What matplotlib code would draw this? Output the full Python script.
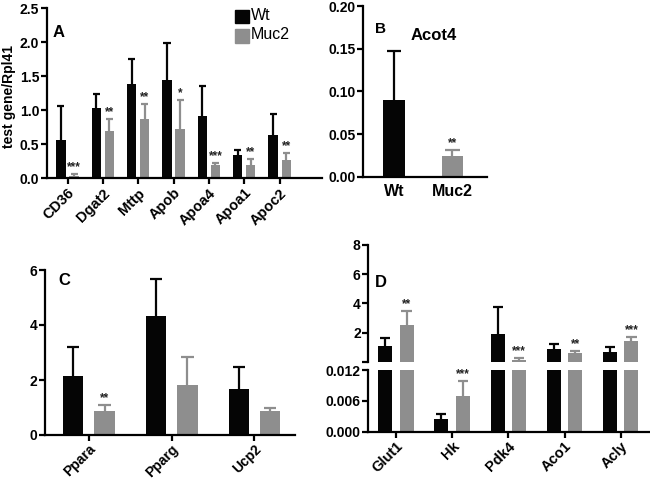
import matplotlib
matplotlib.use("Agg")
import matplotlib.pyplot as plt
import numpy as np
from matplotlib.patches import Rectangle

plt.rcParams['font.family'] = ['Liberation Sans', 'DejaVu Sans']
plt.rcParams['font.weight'] = 'bold'

# ---------------- data ----------------
groups = ["Wt", "Muc2"]

genes_a = ["CD36", "Dgat2", "Mttp", "Apob", "Apoa4", "Apoa1", "Apoc2"]
wt_a = [0.56, 1.03, 1.38, 1.44, 0.92, 0.34, 0.63]
wt_a_err = [0.51, 0.21, 0.38, 0.55, 0.44, 0.08, 0.32]
muc_a = [0.04, 0.69, 0.87, 0.73, 0.20, 0.19, 0.27]
muc_a_err = [0.03, 0.18, 0.22, 0.42, 0.03, 0.10, 0.10]
stars_a = ["***", "**", "**", "*", "***", "**", "**"]
yticks_a = [0.0, 0.5, 1.0, 1.5, 2.0, 2.5]

title_b = "Acot4"
vals_b = [0.0895, 0.0246]
err_b = [0.058, 0.0067]
stars_b = ["", "**"]
yticks_b = [0.00, 0.05, 0.10, 0.15, 0.20]

genes_c = ["Ppara", "Pparg", "Ucp2"]
wt_c = [2.13, 4.34, 1.66]
wt_c_err = [1.06, 1.33, 0.82]
muc_c = [0.86, 1.81, 0.88]
muc_c_err = [0.24, 1.04, 0.09]
stars_c = ["**", "", ""]
yticks_c = [0, 2, 4, 6]

genes_d = ["Glut1", "Hk", "Pdk4", "Aco1", "Acly"]
wt_d = [1.08, 0.0024, 1.88, 0.89, 0.64]
wt_d_err = [0.57, 0.0010, 1.85, 0.30, 0.35]
muc_d = [2.52, 0.0070, 0.12, 0.62, 1.40]
muc_d_err = [0.96, 0.0029, 0.11, 0.09, 0.32]
stars_d = ["**", "***", "***", "**", "***"]
yticks_d_up = [2, 4, 6, 8]
yticks_d_lo = [0.000, 0.006, 0.012]

BLACK = "#050505"
GREY = "#8e8e8e"
LW = 1.6

fig = plt.figure(figsize=(6.5, 4.8), dpi=100)


def style(ax, bottom=True):
    for s in ["top", "right"]:
        ax.spines[s].set_visible(False)
    ax.spines["left"].set_linewidth(LW)
    ax.spines["bottom"].set_linewidth(LW)
    if not bottom:
        ax.spines["bottom"].set_visible(False)
    ax.tick_params(axis="both", direction="out", width=LW, length=4, labelsize=10, pad=1.5)


def errbar(ax, x, v, e, capw, color):
    ax.vlines(x, v, v + e, colors=color, linewidth=LW, zorder=3)
    ax.hlines(v + e, x - capw / 2, x + capw / 2, colors=color, linewidth=LW, zorder=3)


def star(ax, x, y, s, fs=8.5):
    ax.annotate(s, (x, y), xytext=(0, 0.5), textcoords="offset points", ha="center",
                va="bottom", fontsize=fs, fontweight="bold", color="#222222")


def grouped(ax, n, wt, wte, mu, mue, width, off, capw, stars, show=None):
    x = np.arange(n)
    ax.bar(x - off, wt, width, color=BLACK, zorder=2)
    ax.bar(x + off, mu, width, color=GREY, zorder=2)
    for i in range(n):
        if show is not None and not show[i]:
            continue
        errbar(ax, x[i] - off, wt[i], wte[i], capw, BLACK)
        errbar(ax, x[i] + off, mu[i], mue[i], capw, GREY)
        if stars[i]:
            star(ax, x[i] + off, mu[i] + mue[i], stars[i])
    return x


# ---------------- Panel A ----------------
axA = fig.add_axes([47 / 650, 1 - 178.3 / 480, (322 - 47) / 650, (178.3 - 8.3) / 480])
style(axA)
xa = grouped(axA, len(genes_a), wt_a, wt_a_err, muc_a, muc_a_err, 0.26, 0.185, 0.2, stars_a)
axA.set_xlim(-0.58, 7.2)
axA.set_ylim(0, 2.5)
axA.set_yticks(yticks_a)
axA.set_yticklabels([f"{v:.1f}" for v in yticks_a])
axA.set_xticks(xa)
axA.set_xticklabels(genes_a, rotation=45, ha="right", rotation_mode="anchor", fontsize=10.5)
fig.text(0.014, 1 - 97 / 480, "test gene/Rpl41", rotation=90, ha="center", va="center",
         fontsize=10, fontweight="bold")
fig.text(53 / 650, 1 - 37 / 480, "A", fontsize=12, fontweight="bold")
# legend
for j, (lab, col) in enumerate(zip(groups, [BLACK, GREY])):
    y0 = 1 - (23.3 + j * 19.3) / 480
    fig.patches.append(Rectangle((235 / 650, y0), 13.5 / 650, 13.5 / 480, transform=fig.transFigure,
                                 color=col, figure=fig))
    fig.text(251 / 650, y0 + 0.5 / 480, lab, fontsize=11.5, fontweight="normal", va="bottom")

# ---------------- Panel B ----------------
axB = fig.add_axes([363.3 / 650, 1 - 176.7 / 480, (486.7 - 363.3) / 650, (176.7 - 6) / 480])
style(axB)
xb = np.arange(len(groups))
axB.bar(xb, vals_b, 0.37, color=[BLACK, GREY], zorder=2)
for i in range(len(groups)):
    errbar(axB, xb[i], vals_b[i], err_b[i], 0.25, [BLACK, GREY][i])
    if stars_b[i]:
        star(axB, xb[i], vals_b[i] + err_b[i], stars_b[i])
axB.set_xlim(-0.53, 1.59)
axB.set_ylim(0, 0.20)
axB.set_yticks(yticks_b)
axB.set_yticklabels([f"{v:.2f}" for v in yticks_b])
axB.set_xticks(xb)
axB.set_xticklabels(groups, fontsize=11.5)
axB.tick_params(axis="x", length=0, pad=5)
fig.text(375 / 650, 1 - 33 / 480, "B", fontsize=11, fontweight="bold")
fig.text(434 / 650, 1 - 40 / 480, title_b, fontsize=12, fontweight="bold", ha="center")

# ---------------- Panel C ----------------
axC = fig.add_axes([45 / 650, 1 - 435 / 480, (295 - 45) / 650, (435 - 270) / 480])
style(axC)
xc = grouped(axC, len(genes_c), wt_c, wt_c_err, muc_c, muc_c_err, 0.245, 0.19, 0.15, stars_c)
axC.set_xlim(-0.53, 2.49)
axC.set_ylim(0, 6)
axC.set_yticks(yticks_c)
axC.set_xticks(xc)
axC.set_xticklabels(genes_c, rotation=45, ha="right", rotation_mode="anchor", fontsize=10)
axC.tick_params(axis="x", pad=1)
fig.text(58 / 650, 1 - 285 / 480, "C", fontsize=12, fontweight="bold")

# ---------------- Panel D (broken axis) ----------------
lo_top = yticks_d_lo[-1]
axDu = fig.add_axes([368.3 / 650, 1 - 361.7 / 480, (650 - 368.3) / 650, (361.7 - 245) / 480])
axDl = fig.add_axes([368.3 / 650, 1 - 431.7 / 480, (650 - 368.3) / 650, (431.7 - 370) / 480])
style(axDu, bottom=False)
style(axDl)
show_up = [v > lo_top for v in muc_d]
grouped(axDu, len(genes_d), wt_d, wt_d_err, muc_d, muc_d_err, 0.25, 0.19, 0.18, stars_d,
        show=show_up)
xd = grouped(axDl, len(genes_d), wt_d, wt_d_err, muc_d, muc_d_err, 0.25, 0.19, 0.18,
             [s if not u else "" for s, u in zip(stars_d, show_up)])
for ax in (axDu, axDl):
    ax.set_xlim(-0.49, 4.52)
axDu.set_ylim(0, 8)
axDu.set_yticks([0] + yticks_d_up)
axDu.set_yticklabels([""] + [str(v) for v in yticks_d_up])
axDu.set_xticks([])
axDl.set_ylim(0, lo_top)
axDl.set_yticks(yticks_d_lo)
axDl.set_yticklabels([f"{v:.3f}" for v in yticks_d_lo])
axDl.set_xticks(xd)
axDl.set_xticklabels(genes_d, rotation=45, ha="right", rotation_mode="anchor", fontsize=10.5)
fig.text(375 / 650, 1 - 287 / 480, "D", fontsize=12, fontweight="bold")

fig.savefig("out.png", dpi=100)
